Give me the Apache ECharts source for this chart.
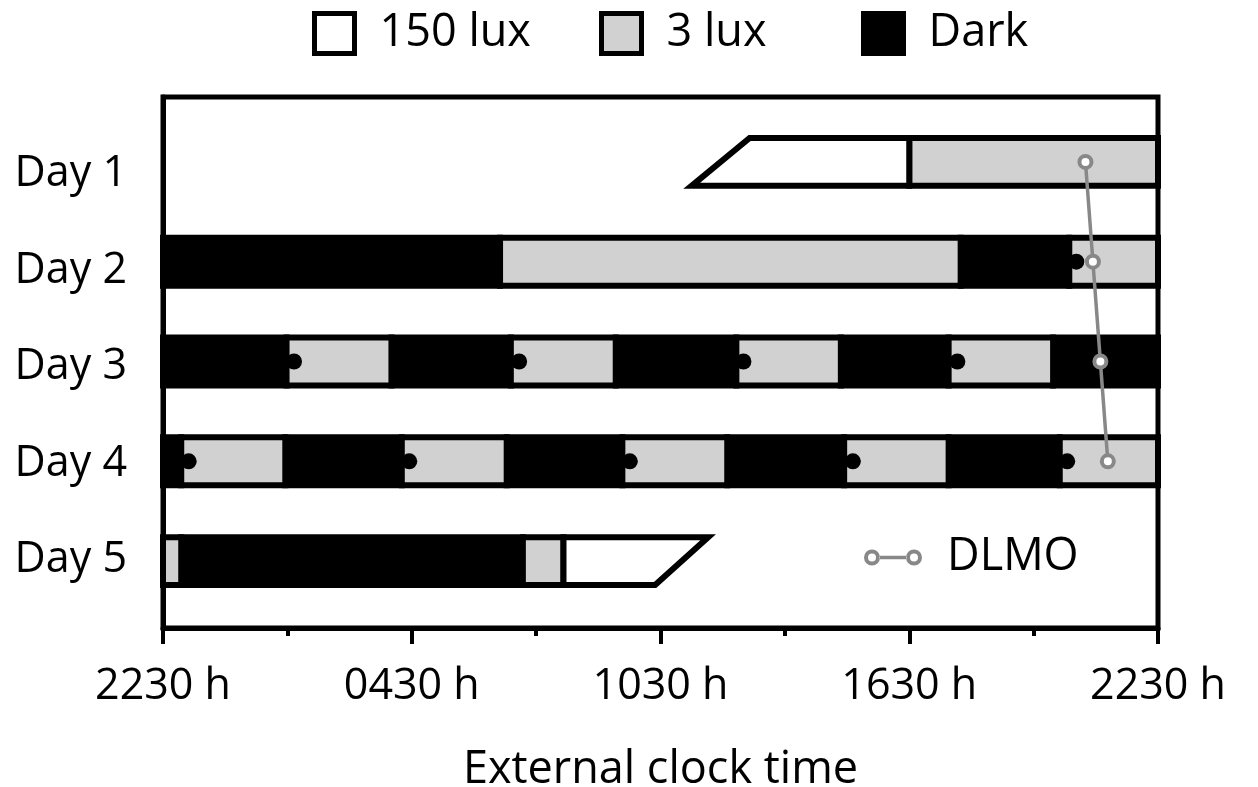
<!DOCTYPE html>
<meta charset="utf-8">
<style>
html, body { margin: 0; padding: 0; background: #fff; }
#container { width: 1258px; height: 787px; }
</style>
<body>
<div id="container"></div>
<script src="https://cdn.jsdelivr.net/npm/echarts@6/dist/echarts.min.js"></script>
<script>

// hours after 2230 h, rows are days
var days = ['Day 1', 'Day 2', 'Day 3', 'Day 4', 'Day 5'];
var tickLabels = ['2230 h', '0430 h', '1030 h', '1630 h', '2230 h'];

// [day, start, end]
var dark = [[2, 0, 8.13], [2, 19.24, 21.86],
  [3, 0, 2.98], [3, 5.51, 8.39], [3, 10.92, 13.83], [3, 16.35, 18.95], [3, 21.47, 24],
  [4, 0, 0.44], [4, 2.95, 5.76], [4, 8.29, 11.08], [4, 13.61, 16.43], [4, 18.95, 21.63],
  [5, 0.44, 8.68]];
var dim = [[1, 18, 24], [2, 8.13, 19.24], [2, 21.86, 24],
  [3, 2.98, 5.51], [3, 8.39, 10.92], [3, 13.83, 16.35], [3, 18.95, 21.47],
  [4, 0.44, 2.95], [4, 5.76, 8.29], [4, 11.08, 13.61], [4, 16.43, 18.95], [4, 21.63, 24],
  [5, 0, 0.44], [5, 8.68, 9.66]];
// [day, start top, start bottom, end top, end bottom]
var bright = [[1, 14.15, 12.75, 18, 18], [5, 9.66, 9.66, 13.15, 11.87]];
// [day, time]
var meals = [[2, 22.03], [3, 3.16], [3, 8.59], [3, 14.0], [3, 19.16],
  [4, 0.62], [4, 5.94], [4, 11.26], [4, 16.64], [4, 21.81]];
var dlmo = [[1, 22.25], [2, 22.43], [3, 22.61], [4, 22.79]];

var font = 'Open Sans';
var fs = 43;
var fsBig = 45;

function barItem(params, api) {
  var s = api.coord([api.value(1), api.value(0)]);
  var e = api.coord([api.value(2), api.value(0)]);
  var h = api.size([0, 0.48])[1];
  return {
    type: 'rect',
    shape: { x: s[0], y: s[1] - h / 2, width: e[0] - s[0], height: h },
    style: api.style({ stroke: '#000', lineWidth: 6 })
  };
}

function rampItem(params, api) {
  var d = api.value(0);
  var h = api.size([0, 0.48])[1];
  var p1 = api.coord([api.value(1), d]), p2 = api.coord([api.value(2), d]);
  var p3 = api.coord([api.value(3), d]), p4 = api.coord([api.value(4), d]);
  return {
    type: 'polygon',
    shape: { points: [[p1[0], p1[1] - h / 2], [p3[0], p3[1] - h / 2],
                      [p4[0], p4[1] + h / 2], [p2[0], p2[1] + h / 2]] },
    style: api.style({ stroke: '#000', lineWidth: 6, lineJoin: 'miter' })
  };
}

function boxLegend(name, left, fill) {
  return {
    left: left, top: 11, padding: 0,
    itemWidth: 40, itemHeight: 40,
    selectedMode: false,
    textStyle: { fontFamily: font, fontSize: fsBig, color: '#000', padding: [0, 0, 0, 20] },
    data: [{ name: name, icon: 'rect', itemStyle: { color: fill, borderColor: '#000', borderWidth: 5 } }]
  };
}

var ringPath = 'path://M0,8a8,8 0 1,0 16,0a8,8 0 1,0 -16,0Z' +
  'M4,8a4,4 0 1,1 8,0a4,4 0 1,1 -8,0Z' +
  'M15.5,6.2L42.5,6.2L42.5,9.8L15.5,9.8Z' +
  'M42,8a8,8 0 1,0 16,0a8,8 0 1,0 -16,0Z' +
  'M46,8a4,4 0 1,1 8,0a4,4 0 1,1 -8,0Z';

var chart = echarts.init(document.getElementById('container'), null, { renderer: 'canvas' });

var option = {
  animation: false,
  backgroundColor: '#fff',
  grid: { left: 163, right: 100, top: 97, bottom: 159, show: true, borderColor: '#000', borderWidth: 5,
          containLabel: false, outerBoundsMode: 'none' },
  legend: [
    boxLegend('150 lux', 312, '#fff'),
    boxLegend('3 lux', 599, '#d1d1d1'),
    boxLegend('Dark', 861, '#000'),
    {
      left: 864, top: 535, padding: 0,
      itemWidth: 58, itemHeight: 16,
      selectedMode: false,
      textStyle: { fontFamily: font, fontSize: fsBig, color: '#000', padding: [0, 0, 0, 20] },
      data: [{ name: 'DLMO', icon: ringPath, itemStyle: { color: '#888', borderWidth: 0 } }]
    }
  ],
  xAxis: {
    type: 'value', min: 0, max: 24, interval: 6,
    name: 'External clock time', nameLocation: 'middle', nameGap: 120,
    nameTextStyle: { fontFamily: font, fontSize: fsBig, color: '#000' },
    axisLine: { lineStyle: { color: '#000', width: 5 } },
    axisTick: { length: 16, lineStyle: { color: '#000', width: 4 } },
    minorTick: { show: true, splitNumber: 2, length: 8, lineStyle: { color: '#000', width: 4 } },
    splitLine: { show: false },
    axisLabel: {
      margin: 37, fontFamily: font, fontSize: fs, color: '#000',
      formatter: function (v) { return tickLabels[v / 6]; }
    }
  },
  yAxis: {
    type: 'value', inverse: true, min: 0.35, max: 5.67,
    axisLine: { show: true, lineStyle: { color: '#000', width: 5 } },
    axisTick: { show: false },
    splitLine: { show: false },
    axisLabel: {
      margin: 36, fontFamily: font, fontSize: fs, color: '#000',
      // labels sit a little off the row centres in the original
      customValues: [1.12, 2.09, 3.05, 4.02, 4.99],
      formatter: function (v) { return days[Math.round(v) - 1]; }
    }
  },
  series: [
    { name: 'Dark', type: 'custom', renderItem: barItem, itemStyle: { color: '#000' },
      encode: { x: [1, 2], y: 0 }, data: dark, silent: true },
    { name: '3 lux', type: 'custom', renderItem: barItem, itemStyle: { color: '#d1d1d1' },
      encode: { x: [1, 2], y: 0 }, data: dim, silent: true },
    { name: '150 lux', type: 'custom', renderItem: rampItem, itemStyle: { color: '#fff' },
      encode: { x: [1, 2, 3, 4], y: 0 }, data: bright, silent: true },
    { name: 'Meal', type: 'scatter', symbolSize: 16, itemStyle: { color: '#000', opacity: 1 },
      data: meals.map(function (m) { return [m[1], m[0]]; }), silent: true },
    { name: 'DLMO', type: 'line', symbol: 'circle', symbolSize: 12, color: '#888',
      lineStyle: { color: '#888', width: 3.5 },
      itemStyle: { color: '#fff', borderColor: '#888', borderWidth: 4 },
      data: dlmo.map(function (m) { return [m[1], m[0]]; }), silent: true, z: 5 }
  ]
};

chart.setOption(option);
window.addEventListener('resize', chart.resize);
</script>
</body>
